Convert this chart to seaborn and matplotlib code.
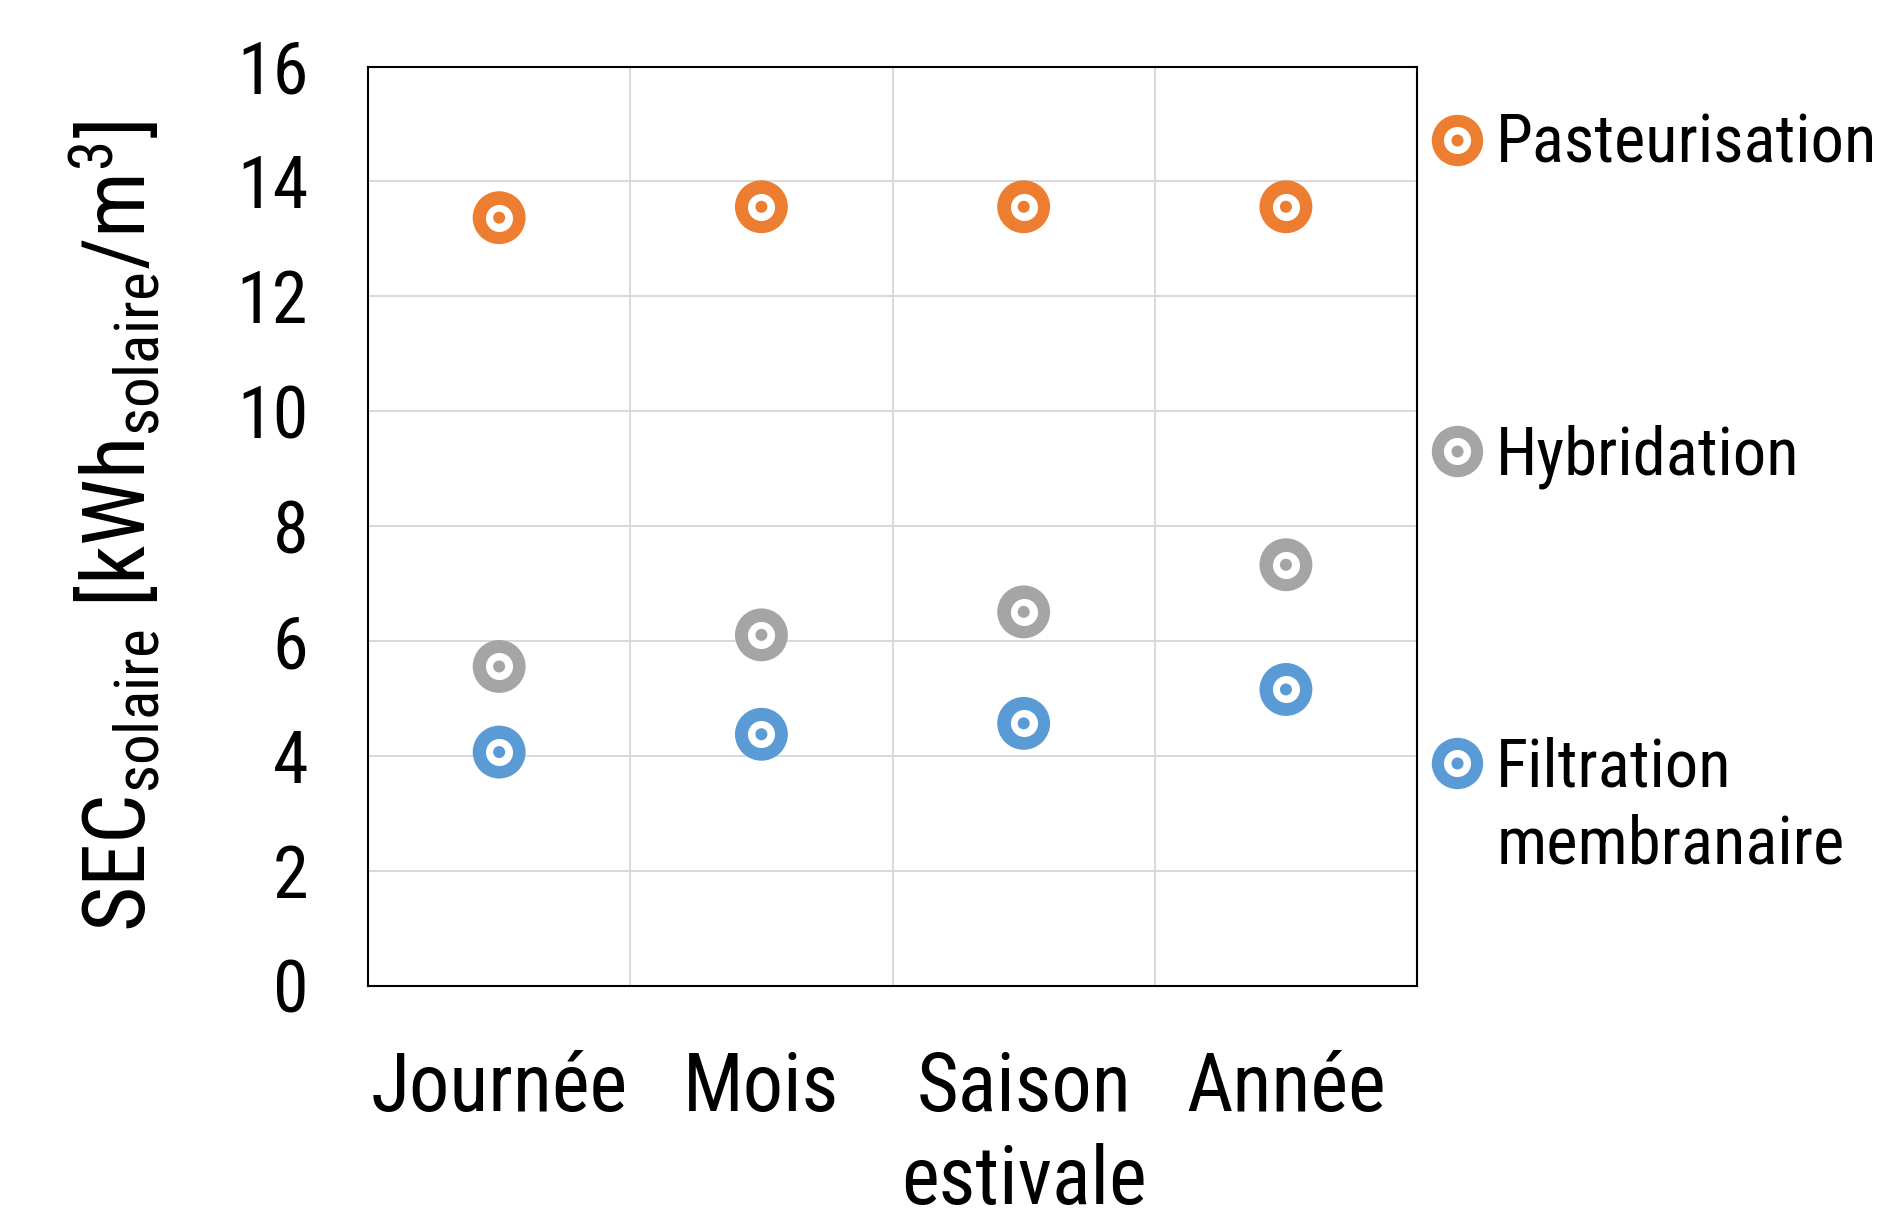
import numpy as np, pandas as pd
import matplotlib
matplotlib.use("Agg")
import matplotlib.pyplot as plt
from matplotlib import font_manager
from matplotlib.lines import Line2D
from matplotlib.legend_handler import HandlerTuple
import seaborn as sns

#%%
periodes = ['Journée', 'Mois', 'Saison\nestivale', 'Année']
procedes = ['Pasteurisation', 'Hybridation', 'Filtration membranaire']
sec_pasteurisation = [13.37, 13.56, 13.56, 13.56]
sec_hybridation = [5.56, 6.11, 6.51, 7.33]
sec_filtration = [4.07, 4.38, 4.57, 5.16]
couleurs = ['#ED7D31', '#A5A5A5', '#5B9BD5']

#%%
# look for a narrow sans font (reference looks like Arial Narrow)
police, etirement = 'Liberation Sans', 'normal'
fonts = font_manager.fontManager.ttflist
for fam in ['Liberation Sans Narrow', 'Arial Narrow', 'Roboto Condensed', 'Roboto',
            'Noto Sans', 'Open Sans', 'DejaVu Sans']:
    ok = [f for f in fonts if f.name == fam and f.style == 'normal' and f.weight in (400, 'normal', 'regular')
          and ('condensed' in str(f.stretch) or 'Narrow' in fam or 'Condensed' in fam)]
    if ok:
        police, etirement = fam, str(ok[0].stretch)
        break

sns.set_style("white")
plt.rcParams['font.family'] = [police, 'DejaVu Sans']
plt.rcParams['font.stretch'] = etirement
plt.rcParams['mathtext.fontset'] = 'custom'
plt.rcParams['mathtext.rm'] = f'{police}:stretch={etirement}'
plt.rcParams['mathtext.it'] = f'{police}:stretch={etirement}'
for k in ['text.color', 'axes.labelcolor', 'xtick.color', 'ytick.color']:
    plt.rcParams[k] = 'black'

df = pd.DataFrame({
    'periode': periodes * 3,
    'x': list(range(len(periodes))) * 3,
    'procede': np.repeat(procedes, len(periodes)),
    'sec': sec_pasteurisation + sec_hybridation + sec_filtration,
})
palette = dict(zip(procedes, couleurs))

fig = plt.figure(figsize=(18.97, 12.21), dpi=100)
ax = fig.add_axes([0.194, 0.1925, 0.553, 0.753])

# three layers: coloured disc, white ring, coloured dot
sns.scatterplot(data=df, x='x', y='sec', hue='procede', palette=palette, s=1450,
                linewidth=0, legend=False, ax=ax, zorder=3)
sns.scatterplot(data=df, x='x', y='sec', color='white', s=380,
                linewidth=0, legend=False, ax=ax, zorder=4)
sns.scatterplot(data=df, x='x', y='sec', hue='procede', palette=palette, s=75,
                linewidth=0, legend=False, ax=ax, zorder=5)

ax.set_xlim(-0.5, len(periodes) - 0.5)
ax.set_ylim(0, 16)
ax.set_yticks(np.arange(0, 17, 2))
ax.set_xticks(range(len(periodes)))
ax.set_xticklabels(periodes, fontsize=58, linespacing=1.25)
ax.set_xticks(np.arange(0.5, len(periodes) - 1, 1), minor=True)
ax.tick_params(axis='x', which='major', length=0, pad=46)
ax.tick_params(axis='x', which='minor', direction='in', length=17, width=1.5, color='black')
ax.tick_params(axis='y', direction='in', length=16, width=1.5, color='black', labelsize=52, pad=43)
ax.grid(False)
ax.grid(axis='y', which='major', color='#d9d9d9', linewidth=1.4, zorder=0)
ax.grid(axis='x', which='minor', color='#d9d9d9', linewidth=1.4, zorder=0)
ax.set_axisbelow(True)
for sp in ax.spines.values():
    sp.set_color('black')
    sp.set_linewidth(1.5)

ax.set_xlabel('')
ax.set_ylabel(r'SEC$_{\mathrm{solaire}}$ [kWh$_{\mathrm{solaire}}$/m$^{3}$]', fontsize=63, labelpad=52)

#%%
# legend, one marker per process, "membranaire" on its own line
handles = []
for c in couleurs:
    h = (Line2D([], [], ls='', marker='o', ms=37, mfc=c, mec='none'),
         Line2D([], [], ls='', marker='o', ms=19.5, mfc='white', mec='none'),
         Line2D([], [], ls='', marker='o', ms=8.7, mfc=c, mec='none'))
    handles.append(h)
leg = ax.legend(handles, ['Pasteurisation', 'Hybridation', 'Filtration'],
                handler_map={tuple: HandlerTuple(ndivide=1)},
                loc='upper left', bbox_to_anchor=(0.749, 0.9075), bbox_transform=fig.transFigure,
                frameon=False, fontsize=48, handlelength=1.08, handletextpad=0.05,
                labelspacing=3.71, borderpad=0, borderaxespad=0)
ax.annotate('membranaire', xy=(0, 0), xycoords=leg.get_texts()[2],
            xytext=(0, -13), textcoords='offset pixels', va='top', ha='left',
            fontsize=48, zorder=10, annotation_clip=False)

fig.canvas.draw()
plt.savefig('out.png', dpi=100)
